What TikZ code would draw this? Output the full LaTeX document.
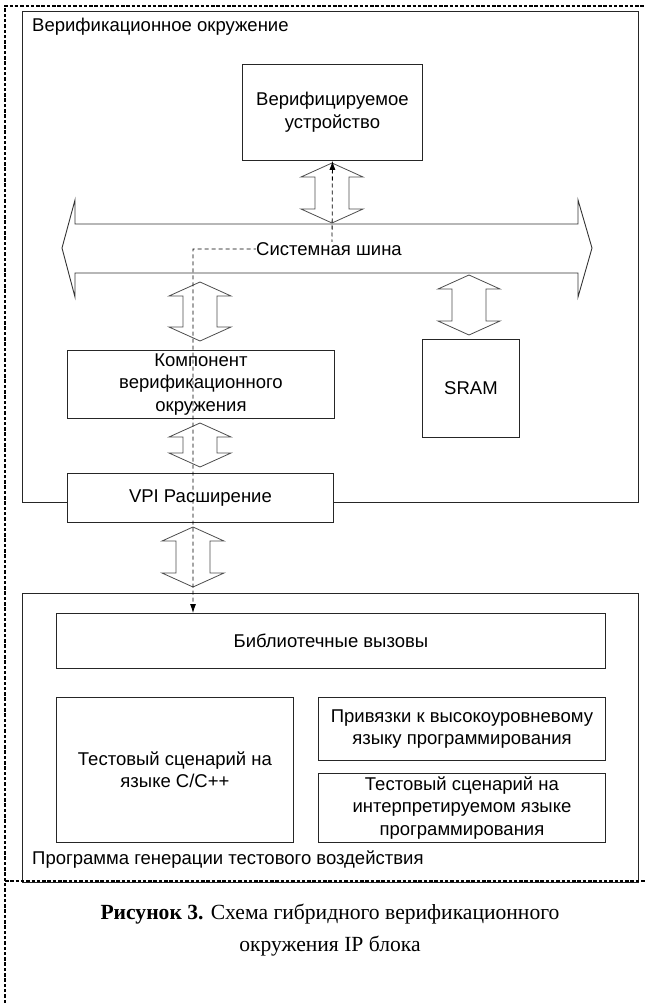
\documentclass[tikz,border=0pt]{standalone}
\usepackage{fontspec}
\setmainfont{Liberation Sans}
\newfontfamily\capfont{Liberation Serif}
\usetikzlibrary{arrows.meta}
\newcommand\vdarrow[3]{\draw[fatarrow] (#1,#2) -- ({#1+31},{#2+14}) -- ({#1+17},{#2+14}) -- ({#1+17},{#3-14}) -- ({#1+31},{#3-14}) -- (#1,#3) -- ({#1-31},{#3-14}) -- ({#1-17},{#3-14}) -- ({#1-17},{#2+14}) -- ({#1-31},{#2+14}) -- cycle;}
\begin{document}
\begin{tikzpicture}[x=1pt,y=-1pt,
 box/.style={draw=black!85, line width=0.9pt, inner sep=0pt, align=center, anchor=north west, font=\fontsize{18.5}{22.5}\selectfont},
 lbl/.style={inner sep=0pt, anchor=base west, font=\fontsize{18.5}{22.5}\selectfont},
 fatarrow/.style={draw=black!70, line width=0.8pt, line join=miter},
 busline/.style={draw=black!80, line width=0.9pt, line join=miter},
 conn/.style={dash pattern=on 4pt off 3pt, line width=0.8pt, {Latex[length=9pt,width=6pt]}-{Latex[length=9pt,width=6pt]}},
 frame/.style={line width=1.6pt, dash pattern=on 3.5pt off 1.8pt},
 captext/.style={anchor=base, inner sep=0pt, font=\capfont\fontsize{21.6}{26}\selectfont}]
\useasboundingbox (0,0) rectangle (645,1003);
% containers
\node[box, minimum width=616, minimum height=491] (env) at (22,11) {};
\node[box, minimum width=616, minimum height=289] (prog) at (22,593) {};
\node[lbl] (envlbl) at (32,32) {Верификационное окружение};
\node[lbl] (proglbl) at (32,864) {Программа генерации тестового воздействия};
% blocks
\node[box, minimum width=180, minimum height=96] (dut) at (242,64) {Верифицируемое\\устройство};
\node[box, minimum width=267, minimum height=68] (comp) at (67,350) {Компонент\\верификационного\\окружения};
\node[box, fill=white, minimum width=266, minimum height=49] (vpi) at (67,473) {VPI Расширение};
\node[box, minimum width=97, minimum height=98] (sram) at (422,339) {SRAM};
\node[box, minimum width=549, minimum height=55] (lib) at (56,613) {Библиотечные вызовы};
\node[box, minimum width=237, minimum height=145] (cbox) at (56,697) {Тестовый сценарий на\\языке C/C++};
\node[box, minimum width=287, minimum height=63] (bind) at (318,697) {Привязки к высокоуровневому\\языку программирования};
\node[box, minimum width=287, minimum height=69] (interp) at (318,773) {Тестовый сценарий на\\интерпретируемом языке\\программирования};
% system bus
\draw[busline] (62,248) -- (75,200) -- (75,224) -- (578,224) -- (578,200) -- (592,248) -- (578,297) -- (578,273) -- (75,273) -- (75,297) -- cycle;
% fat double arrows
\vdarrow{332}{163}{223}
\vdarrow{200}{282}{341}
\vdarrow{200}{423}{467}
\vdarrow{193}{527}{587}
\vdarrow{469}{275}{335}
% dashed connector
\coordinate (b1) at (332,249);
\coordinate (b2) at (193,249);
\draw[conn] (dut.south) -- (b1) -- (b2) -- (b2 |- lib.north);
\node[fill=white, inner sep=0.5pt, anchor=base, font=\fontsize{18.5}{22.5}\selectfont] (buslbl) at (329,255) {Системная шина};
% outer dashed frame
\draw[frame] (5,1003) -- (5,6) -- (645,6);
\draw[frame] (5,881) -- (645,881);
% caption
\node[captext] (cap1) at (330,919) {\textbf{Рисунок 3.} Схема гибридного верификационного};
\node[captext] (cap2) at (330,951) {окружения IP блока};
\end{tikzpicture}
\end{document}
